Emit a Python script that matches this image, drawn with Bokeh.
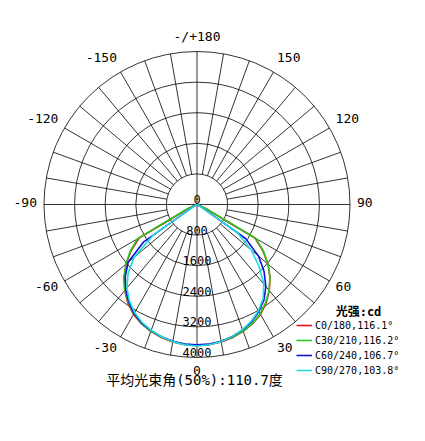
import numpy as np
from bokeh.plotting import figure
from bokeh.models import Range1d, Legend, LegendItem
from bokeh.core.properties import value
from bokeh.embed import file_html
from bokeh.resources import INLINE

# ---------------- data ----------------
gamma = list(range(-90, 95, 5))  # degrees, negative = left side
c0_180 = [0, 0, 0, 0, 40, 250, 1750, 2100, 2420, 2700, 2940, 3150, 3320, 3440, 3530, 3600, 3650, 3680,
          3690,
          3680, 3650, 3600, 3530, 3440, 3320, 3150, 2940, 2700, 2420, 2100, 1750, 250, 40, 0, 0, 0, 0]
c30_210 = [0, 0, 0, 0, 50, 320, 1800, 2130, 2430, 2700, 2930, 3130, 3300, 3430, 3520, 3590, 3640, 3670,
           3680,
           3670, 3640, 3590, 3520, 3430, 3300, 3130, 2930, 2700, 2430, 2120, 1780, 300, 50, 0, 0, 0, 0]
c60_240 = [0, 0, 0, 0, 0, 0, 120, 1700, 2350, 2650, 2900, 3110, 3290, 3420, 3510, 3580, 3630, 3660,
           3670,
           3660, 3630, 3570, 3490, 3380, 3230, 3050, 2800, 2480, 2100, 1550, 120, 0, 0, 0, 0, 0, 0]
c90_270 = [0, 0, 0, 0, 0, 0, 100, 1400, 2150, 2550, 2850, 3080, 3260, 3400, 3500, 3580, 3640, 3680,
           3700,
           3680, 3640, 3570, 3480, 3360, 3210, 3010, 2720, 2300, 1850, 1300, 100, 0, 0, 0, 0, 0, 0]
series = [c0_180, c30_210, c60_240, c90_270]
series_names = ["C0/180,116.1°", "C30/210,116.2°", "C60/240,106.7°", "C90/270,103.8°"]
colors = ["#ee1111", "#22cc22", "#1111dd", "#22dddd"]

ring_values = [800, 1600, 2400, 3200, 4000]
ring_labels = ["0", "800", "1600", "2400", "3200", "4000"]
ring_label_values = [0, 800, 1600, 2400, 3200, 4000]
angle_ticks = [0, 30, 60, 90, 120, 150, 180, -150, -120, -90, -60, -30]
angle_labels = ["0", "30", "60", "90", "120", "150", "-/+180", "-150", "-120", "-90", "-60", "-30"]
title_text = "平均光束角(50%):110.7度"
legend_title = "光强:cd"

# ---------------- layout ----------------
W, H = 420, 436
RMAX = 4000.0
PX = RMAX / 153.0          # cd per pixel
cx, cy = 196.5, 204.0      # pole position in px from top-left of the frame

MONO = "DejaVu Sans Mono, Noto Sans CJK SC"

p = figure(width=W, height=H, output_backend="svg", toolbar_location=None,
           x_range=Range1d(-cx * PX, (W - cx) * PX),
           y_range=Range1d(-(H - cy) * PX, cy * PX),
           x_axis_location=None, y_axis_location=None,
           min_border=0, outline_line_color=None)
p.grid.visible = False
p.background_fill_color = "white"
p.border_fill_color = "white"

# rings
p.circle(x=[0] * len(ring_values), y=[0] * len(ring_values), radius=ring_values,
         fill_color=None, line_color="black", line_width=0.8)

# spokes
x0s, y0s, x1s, y1s = [], [], [], []
for a in range(0, 360, 10):
    t = np.radians(a)
    r0 = 0 if a % 90 == 0 else ring_values[0]
    x0s.append(r0 * np.sin(t)); y0s.append(-r0 * np.cos(t))
    x1s.append(RMAX * np.sin(t)); y1s.append(-RMAX * np.cos(t))
p.segment(x0=x0s, y0=y0s, x1=x1s, y1=y1s, line_color="black", line_width=0.8)

# curves
th = np.radians(gamma)
items = []
for vals, name, col in zip(series, series_names, colors):
    v = np.array(vals, dtype=float)
    r = p.line(x=v * np.sin(th), y=-v * np.cos(th), line_color=col, line_width=1.6)
    items.append(LegendItem(label=name, renderers=[r]))

# ring labels
p.text(x=[0] * len(ring_label_values),
       y=[-v + 5 * PX for v in ring_label_values],
       text=ring_labels, text_align="center", text_baseline="alphabetic",
       text_font=value(MONO), text_font_size="12px", text_color="black")

# angle labels
RX, RY = 160 * PX, 168 * PX
ax, ay, aal = [], [], []
for a in angle_ticks:
    t = np.radians(a)
    s = np.sin(t)
    ax.append(RX * s)
    ay.append(-RY * np.cos(t) + (0 if a == 180 else 2 * PX))
    aal.append("left" if s > 0.01 else ("right" if s < -0.01 else "center"))
p.text(x=ax, y=ay, text=angle_labels, text_align=aal, text_baseline="middle",
       text_font=value(MONO), text_font_size="13px", text_color="black")

# title below
p.text(x=[-2.5 * PX], y=[-175 * PX], text=[title_text], text_align="center",
       text_baseline="middle", text_font=value(MONO), text_font_size="14px",
       text_color="black")

# legend header
p.text(x=[161.5 * PX], y=[-107 * PX], text=[legend_title], text_align="center",
       text_baseline="middle", text_font=value(MONO), text_font_size="12px",
       text_font_style="bold", text_color="black")

legend = Legend(items=items, location=(296, H - 376), padding=0, margin=0,
                border_line_color=None, background_fill_alpha=0,
                label_height=12, glyph_height=12, glyph_width=16, spacing=3,
                label_standoff=3, label_text_font=MONO, label_text_font_size="10px",
                label_text_color="black")
p.add_layout(legend)

open("out.html", "w").write(file_html(p, INLINE))
